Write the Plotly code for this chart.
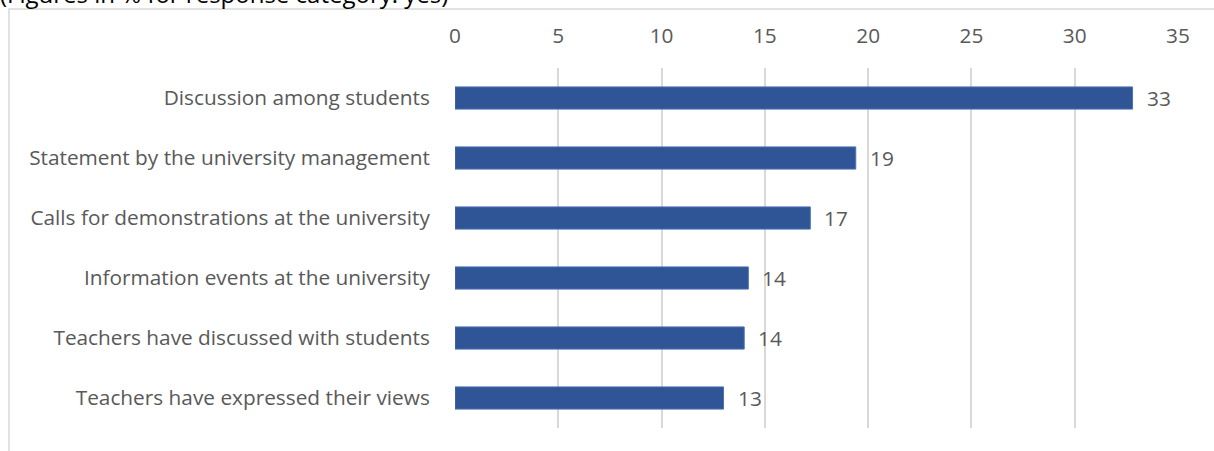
import plotly.graph_objects as go

categories = [
    "Discussion among students",
    "Statement by the university management",
    "Calls for demonstrations at the university",
    "Information events at the university",
    "Teachers have discussed with students",
    "Teachers have expressed their views",
]
values = [32.8, 19.4, 17.2, 14.2, 14.0, 13.0]
x_ticks = [0, 5, 10, 15, 20, 25, 30, 35]
subtitle = "(Figures in % for response category: yes)"

FONT = "Open Sans"
GRAY = "#595959"
FS = 20.8

W, H = 1214, 451
L, R, T, B = 455, 36, 68, 23
PW, PH = W - L - R, H - T - B

fig = go.Figure()
fig.add_trace(go.Bar(
    x=values, y=categories, orientation="h",
    marker=dict(color="#2F5597", line=dict(color="#4A72B8", width=1)),
    hoverinfo="x+y",
))

for c, v in zip(categories, values):
    fig.add_annotation(x=v, y=c, xref="x", yref="y", text=f"{round(v):d}",
                       showarrow=False, xanchor="left", xshift=12,
                       font=dict(family=FONT, size=FS, color=GRAY))

fig.add_annotation(x=-L / PW, y=(H - B) / PH, xref="paper", yref="paper",
                   xanchor="left", yanchor="bottom", yshift=-12, xshift=-2,
                   text=subtitle, showarrow=False,
                   font=dict(family=FONT, size=24, color="#000000"))

fig.update_layout(
    width=W, height=H,
    margin=dict(l=L, r=R, t=T, b=B),
    paper_bgcolor="white", plot_bgcolor="white",
    bargap=0.63,
    showlegend=False,
    font=dict(family=FONT, size=FS, color=GRAY),
    shapes=[dict(type="rect", xref="paper", yref="paper",
                 x0=(9 - L) / PW, x1=(W + 20 - L) / PW,
                 y0=-(B + 20) / PH, y1=(H - 9 - B) / PH,
                 line=dict(color="#D9D9D9", width=1.5), fillcolor="rgba(0,0,0,0)", layer="below")],
)
fig.update_xaxes(
    range=[0, 35], side="top", tickvals=x_ticks, ticktext=[str(t) for t in x_ticks],
    showgrid=True, gridcolor="#D9D9D9", gridwidth=1.5, zeroline=False,
    showline=False, ticks="outside", ticklen=16, tickcolor="rgba(0,0,0,0)",
    tickfont=dict(family=FONT, size=FS, color=GRAY),
)
fig.update_yaxes(
    categoryorder="array", categoryarray=categories[::-1],
    showgrid=False, zeroline=False, showline=False,
    ticks="outside", ticklen=20, tickcolor="rgba(0,0,0,0)",
    tickfont=dict(family=FONT, size=FS, color=GRAY),
)

fig.write_html("out.html", config={"displayModeBar": False},
               post_script="document.body.style.margin='0';document.body.style.overflow='hidden';")
